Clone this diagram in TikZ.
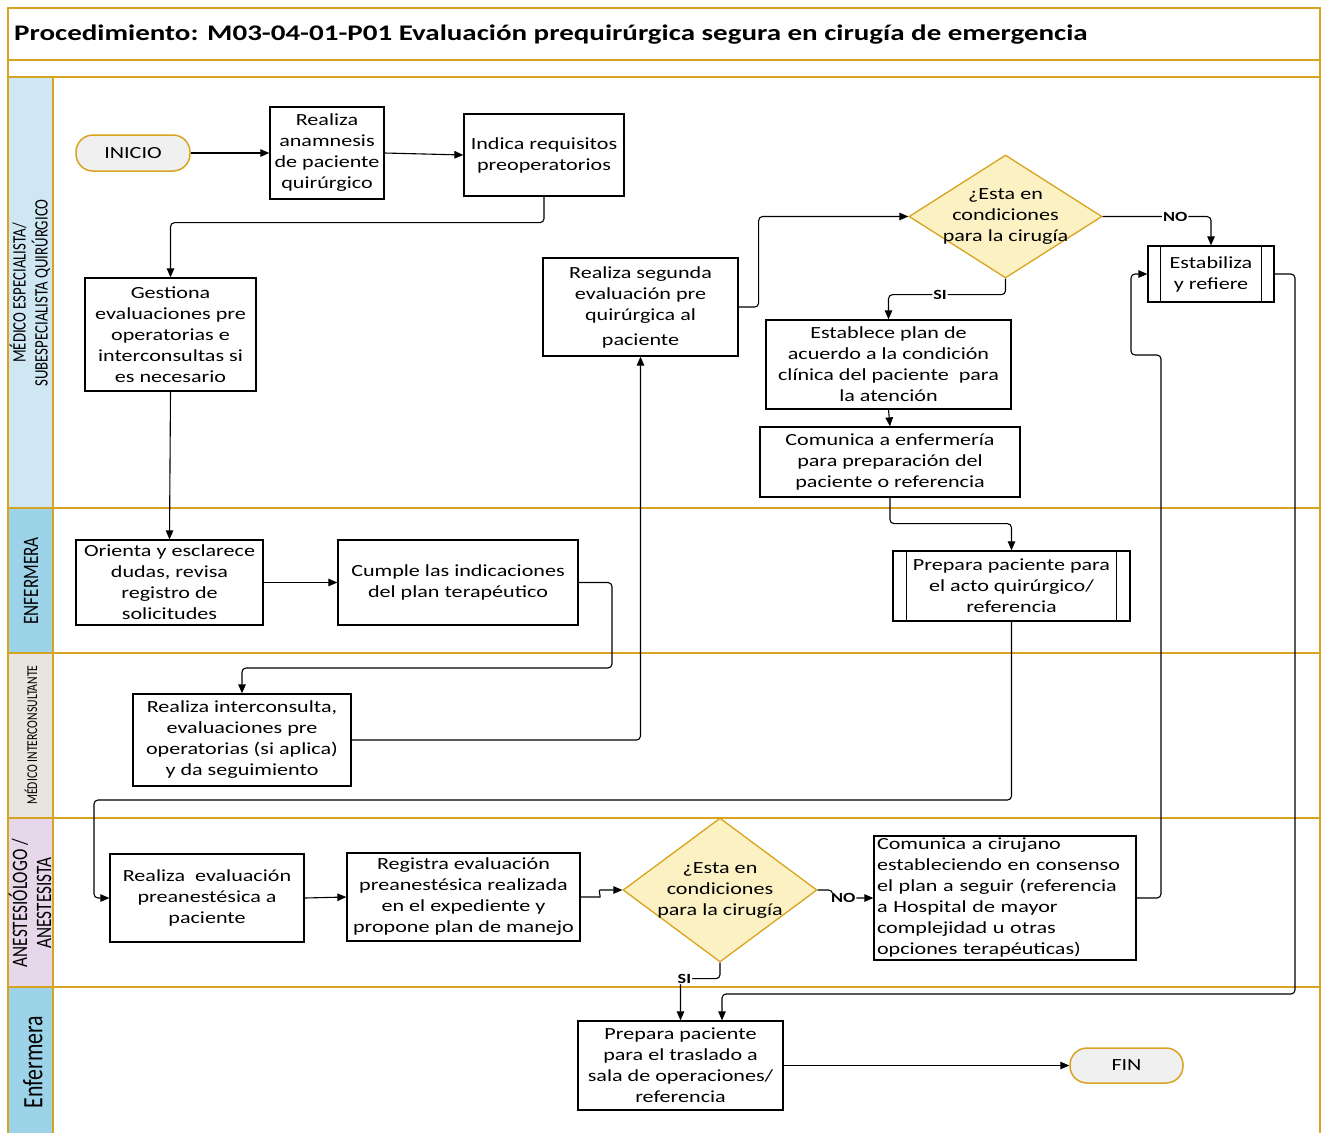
\documentclass[tikz,border=0pt]{standalone}
\usepackage{fontspec}
\setmainfont{Carlito}
\newfontfamily\boxfont[FakeStretch=1.3]{Carlito}
\newfontfamily\lanefont[FakeStretch=0.78]{Carlito}
\usetikzlibrary{shapes.geometric,arrows.meta}
\definecolor{lanegold}{HTML}{D8A31E}
\definecolor{laneA}{HTML}{CFE6F3}
\definecolor{laneB}{HTML}{9CD3E9}
\definecolor{laneC}{HTML}{E8E4E0}
\definecolor{laneD}{HTML}{E6D8EA}
\definecolor{decfill}{HTML}{FBF1C3}
\definecolor{termfill}{HTML}{F0F0F0}

\tikzset{
  proc/.style={draw, line width=1.3pt, rectangle, align=center, inner sep=2pt,
    fill=white, font=\boxfont\fontsize{17}{21}\selectfont},
  dec/.style={draw=lanegold, line width=1.3pt, diamond, fill=decfill, inner sep=0pt},
  dectext/.style={align=center, inner sep=0pt, font=\boxfont\fontsize{17}{21}\selectfont},
  term/.style={draw=lanegold, line width=1.5pt, rectangle, rounded corners=17pt,
    fill=termfill, align=center, font=\boxfont\fontsize{17}{21}\selectfont},
  arr/.style={-{Triangle[length=9pt,width=7.5pt]}, line width=1.1pt, rounded corners=4pt},
  lbl/.style={font=\boxfont\bfseries\fontsize{14}{14}\selectfont, fill=white, inner sep=1pt},
  lanelbl/.style={rotate=90, align=center, inner sep=0pt},
  goldline/.style={draw=lanegold, line width=1.6pt}
}

\begin{document}
\begin{tikzpicture}[x=1pt,y=-1pt]
\useasboundingbox (0,0) rectangle (1324,1133);

% swimlane headers
\fill[laneA] (8,77) rectangle (53,508);
\fill[laneB] (8,508) rectangle (53,653);
\fill[laneC] (8,653) rectangle (53,818);
\fill[laneD] (8,818) rectangle (53,987);
\fill[laneB] (8,987) rectangle (53,1133);

% frame and lane separators
\draw[goldline] (8,1133) -- (8,8) -- (1320,8) -- (1320,1133);
\foreach \yy in {60,77,508,653,818,987} \draw[goldline] (8,\yy) -- (1320,\yy);
\draw[goldline] (53,77) -- (53,1133);

% title
\node[anchor=west, inner sep=0pt, font=\boxfont\bfseries\fontsize{22.3}{24}\selectfont] (title) at (14,35)
  {Procedimiento: M03-04-01-P01 Evaluación prequirúrgica segura en cirugía de emergencia};

% lane names
\node[lanelbl, font=\lanefont\fontsize{19}{22}\selectfont] (lane1) at (30,293)
  {MÉDICO ESPECIALISTA/\\SUBESPECIALISTA QUIRÚRGICO};
\node[lanelbl, font=\lanefont\fontsize{22}{24}\selectfont] (lane2) at (31,581) {ENFERMERA};
\node[lanelbl, font=\lanefont\fontsize{15}{18}\selectfont] (lane3) at (31,735) {MÉDICO INTERCONSULTANTE};
\node[lanelbl, font=\lanefont\fontsize{22}{24}\selectfont] (lane4) at (30,903)
  {ANESTESIÓLOGO /\\ANESTESISTA};
\node[lanelbl, font=\lanefont\fontsize{28}{30}\selectfont] (lane5) at (33,1062) {Enfermera};

% process steps
\node[term, minimum width=114pt, minimum height=36pt] (inicio) at (133,153) {INICIO};
\node[proc, minimum width=114pt, minimum height=92pt] (anam) at (327,153)
  {Realiza\\anamnesis\\de paciente\\quirúrgico};
\node[proc, minimum width=160pt, minimum height=82pt] (indica) at (544,155)
  {Indica requisitos\\preoperatorios};
\node[proc, minimum width=171pt, minimum height=113pt] (gestiona) at (170.5,334.5)
  {Gestiona\\evaluaciones pre\\operatorias e\\interconsultas si\\es necesario};
\node[proc, minimum width=195pt, minimum height=98pt] (segunda) at (640.5,307)
  {Realiza segunda\\evaluación pre\\quirúrgica al\\[4pt]paciente};
\node[dec, minimum width=193pt, minimum height=123pt] (dec1) at (1005.5,216.5) {};
\node[dectext] (dec1t) at (1005.5,216.5) {¿Esta en\\condiciones\\para la cirugía};
\node[proc, minimum width=126pt, minimum height=56pt] (estab) at (1211,274)
  {Estabiliza\\y refiere};
\node[proc, minimum width=245pt, minimum height=89pt] (establece) at (888.5,364.5)
  {Establece plan de\\acuerdo a la condición\\clínica del paciente\ \ para\\la atención};
\node[proc, minimum width=260pt, minimum height=70pt] (comenf) at (890,462)
  {Comunica a enfermería\\para preparación del\\paciente o referencia};
\node[proc, minimum width=187pt, minimum height=85pt] (orienta) at (169.5,582.5)
  {Orienta y esclarece\\dudas, revisa\\registro de\\solicitudes};
\node[proc, minimum width=240pt, minimum height=85pt] (cumple) at (458,582.5)
  {Cumple las indicaciones\\del plan terapéutico};
\node[proc, minimum width=237pt, minimum height=70pt] (prepacto) at (1011.5,586)
  {Prepara paciente para\\el acto quirúrgico/\\referencia};
\node[proc, minimum width=218pt, minimum height=92pt] (intercons) at (242,740)
  {Realiza interconsulta,\\evaluaciones pre\\operatorias (si aplica)\\y da seguimiento};
\node[proc, minimum width=194pt, minimum height=88pt] (preanest) at (207,898)
  {Realiza\ \ evaluación\\preanestésica a\\paciente};
\node[proc, minimum width=233pt, minimum height=88pt] (registra) at (463.5,897)
  {Registra evaluación\\preanestésica realizada\\en el expediente y\\propone plan de manejo};
\node[dec, minimum width=194pt, minimum height=144pt] (dec2) at (720,890) {};
\node[dectext] (dec2t) at (720,890) {¿Esta en\\condiciones\\para la cirugía};
\node[proc, align=left, text width=256pt, inner xsep=3pt, minimum height=124pt] (comcir) at (1005,898)
  {Comunica a cirujano\\estableciendo en consenso\\el plan a seguir (referencia\\a Hospital de mayor\\complejidad u otras\\opciones terapéuticas)};
\node[proc, minimum width=205pt, minimum height=89pt] (preptras) at (680.5,1065.5)
  {Prepara paciente\\para el traslado a\\sala de operaciones/\\referencia};
\node[term, minimum width=113pt, minimum height=35pt] (fin) at (1126.5,1065.5) {FIN};

% inner bars of the predefined-process boxes
\draw[line width=1.3pt] ([xshift=13pt]estab.north west) -- ([xshift=13pt]estab.south west)
  ([xshift=-13pt]estab.north east) -- ([xshift=-13pt]estab.south east);
\draw[line width=1.3pt] ([xshift=14pt]prepacto.north west) -- ([xshift=14pt]prepacto.south west)
  ([xshift=-14pt]prepacto.north east) -- ([xshift=-14pt]prepacto.south east);

% connectors
\draw[arr] (inicio.east) -- (anam.west);
\draw[arr] (anam.east) -- (indica.west);
\draw[arr] (indica.south) -- ++(0,26) -| (gestiona.north);
\draw[arr] (gestiona.south) -- (orienta.north);
\draw[arr] (orienta.east) -- (cumple.west);
\draw[arr] (cumple.east) -| (612,668) -| (intercons.north);
\draw[arr] (intercons.east) -| (segunda.south);
\draw[arr] (segunda.east) -- ++(20,0) |- (dec1.west);
\draw[arr] (dec1.east) -| node[lbl, pos=0.335] {NO} (estab.north);
\draw[arr] (dec1.south) -- ++(0,16) -| node[lbl, pos=0.28] {SI} (establece.north);
\draw[arr] (establece.south) -- (comenf.north);
\draw[arr] (comenf.south) -- ++(0,26) -| (prepacto.north);
\draw[arr] (prepacto.south) |- (94,800) |- (preanest.west);
\draw[arr] (preanest.east) -- (registra.west);
\draw[arr] (registra.east) -- (596,897) .. controls (601,897) and (598,890) .. (604,890) -- (dec2.west);
\draw[arr] (dec2.east) -- ++(15,0) |- node[lbl, pos=0.63] {NO} (comcir.west);
\draw[arr] (dec2.south) -- ++(0,16) -| node[lbl, pos=0.45] {SI} (preptras.north);
\draw[arr] (comcir.east) -| (1161,355) -- (1131,355) |- (estab.west);
\draw[arr] (estab.east) -| (1295,994) -| ([xshift=41.5pt]preptras.north);
\draw[arr] (preptras.east) -- (fin.west);
\end{tikzpicture}
\end{document}
